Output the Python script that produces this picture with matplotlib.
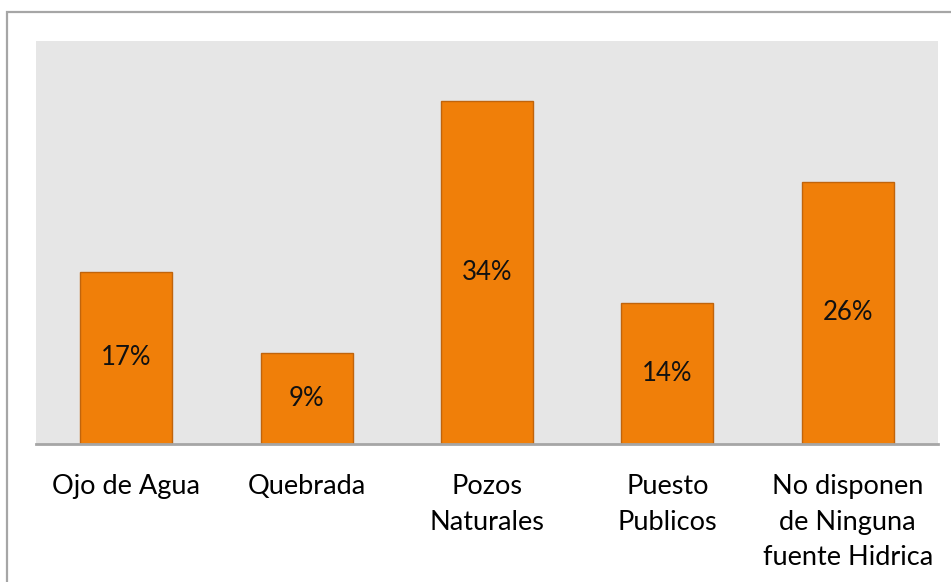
import matplotlib.pyplot as plt
from matplotlib.patches import Rectangle

# datos
categorias = ["Ojo de Agua", "Quebrada", "Pozos\nNaturales", "Puesto\nPublicos",
              "No disponen\nde Ninguna\nfuente Hidrica"]
valores = [17, 9, 34, 14, 26]
etiquetas = ["17%", "9%", "34%", "14%", "26%"]

plt.rcParams["font.family"] = ["Lato", "DejaVu Sans"]

fig = plt.figure(figsize=(9.51, 5.82), dpi=100)
ax = fig.add_axes([36 / 951, 1 - 443.5 / 582, 902 / 951, 402.5 / 582])

# borde del grafico (cortado a la derecha y abajo)
fig.patches.append(Rectangle((7 / 951, -0.1), 1.1, 1 - 12 / 582 + 0.1,
                             transform=fig.transFigure, fill=False,
                             edgecolor="#a6a6a6", linewidth=1.6))

x = range(len(categorias))
bars = ax.bar(x, valores, width=0.51, color="#f07f09", edgecolor="#c0640c",
              linewidth=1.0, zorder=2)

for b, t in zip(bars, etiquetas):
    ax.text(b.get_x() + b.get_width() / 2, b.get_height() / 2, t,
            ha="center", va="center", fontsize=18.5, color="#111111", zorder=3)

ax.set_facecolor("#e6e6e6")
ax.set_xlim(-0.5, len(categorias) - 0.5)
ax.set_ylim(0, 40)
ax.set_yticks([])
ax.set_xticks(list(x))
ax.set_xticklabels(categorias, fontsize=19.5, linespacing=1.53, va="top")
ax.tick_params(axis="x", length=0, pad=22)
for s in ["top", "right", "left"]:
    ax.spines[s].set_visible(False)
ax.spines["bottom"].set_color("#a6a6a6")
ax.spines["bottom"].set_linewidth(2)

fig.savefig("out.png", dpi=100)
